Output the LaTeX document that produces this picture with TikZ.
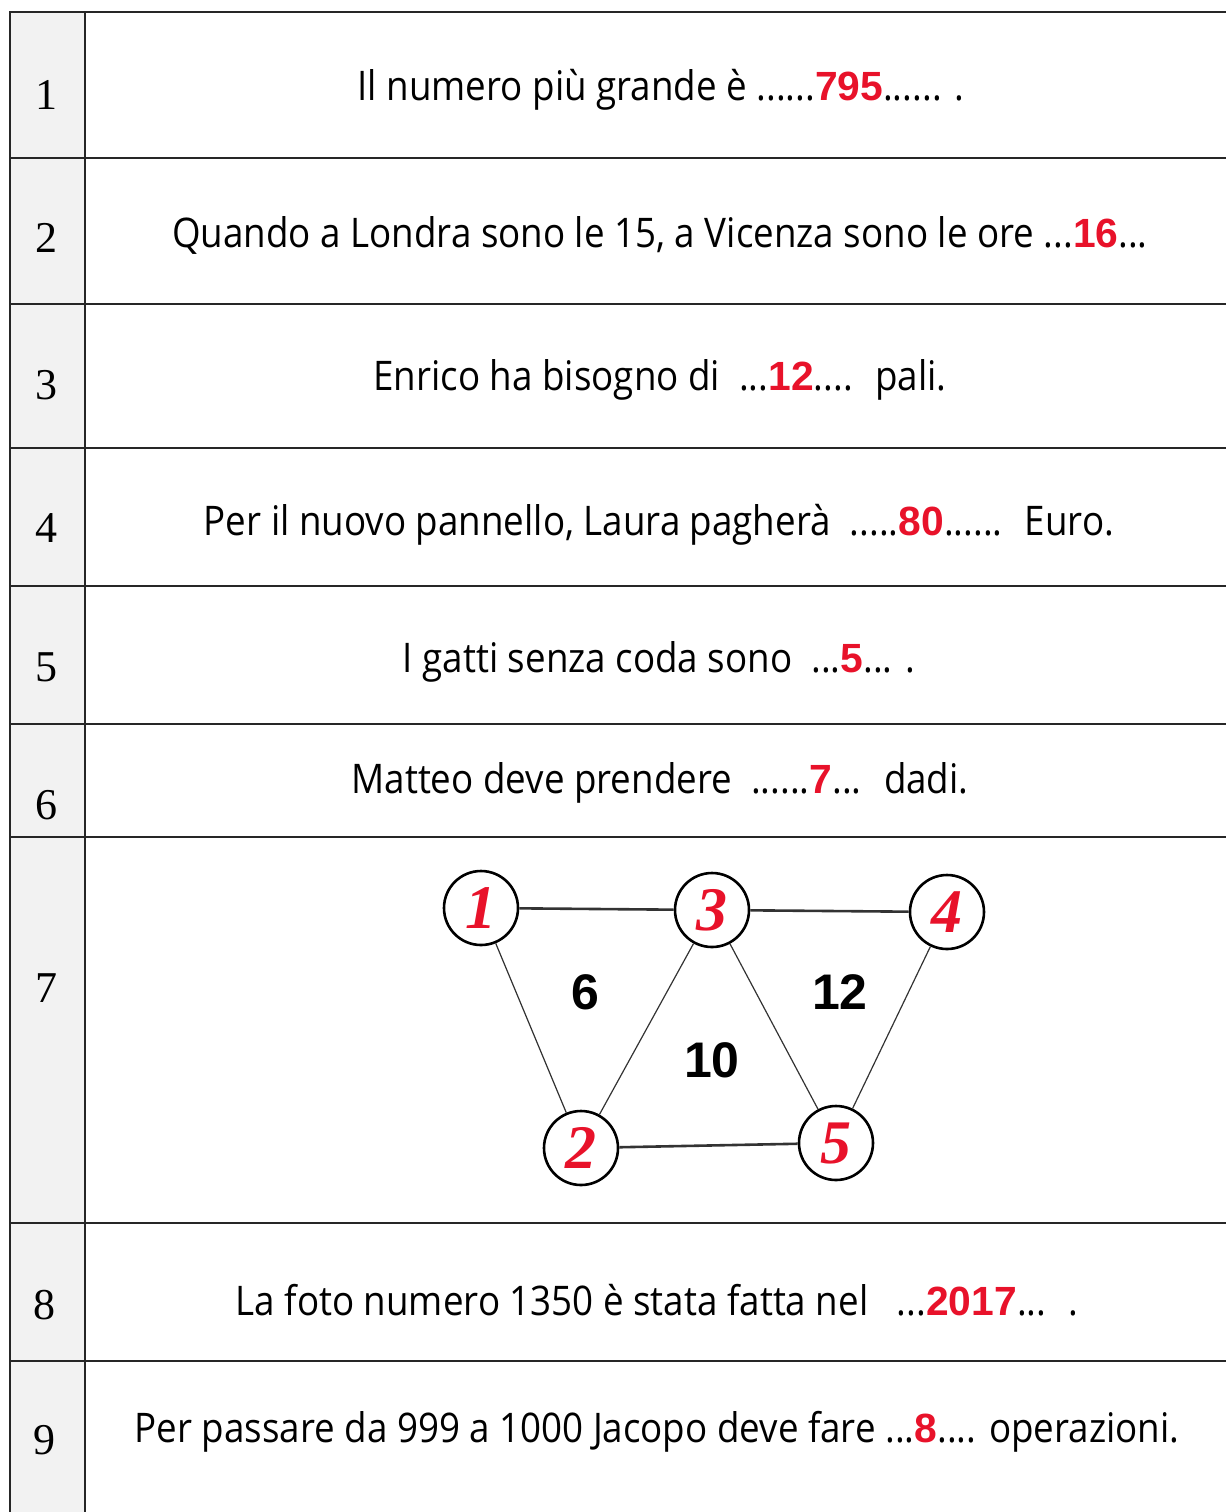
\documentclass[tikz,border=0pt]{standalone}
\usepackage{fontspec}
\setmainfont{Liberation Serif}
\newfontfamily\comicfont[FakeStretch=0.9]{Open Sans}
\newfontfamily\answerfont{Liberation Sans}
\definecolor{answerred}{RGB}{232,18,42}
\newcommand{\ans}[1]{{\answerfont\bfseries\color{answerred}#1}}
\tikzset{
  rownum/.style={font=\fontsize{22}{24}\selectfont},
  sentence/.style={font=\comicfont\fontsize{20.4}{24}\selectfont},
  vertex/.style={circle,draw,line width=1.3pt,minimum size=37pt,inner sep=0pt,
    text=answerred,font=\bfseries\itshape\fontsize{31}{31}\selectfont},
  area/.style={font=\answerfont\bfseries\fontsize{25}{27}\selectfont},
  rule/.style={line width=0.8pt,black!85},
}
\begin{document}
\begin{tikzpicture}[x=0.5pt,y=-0.5pt]
      \useasboundingbox (0,0) rectangle (1226,1512);
      \fill[gray!10] (10,12) rectangle (85,1512);
      \draw[rule] (1226,12) -- (10,12) -- (10,1512);
      \draw[rule] (85,12) -- (85,1512);
      \foreach \y in {158,304,448,586,724,837,1223,1361}
        \draw[rule] (10,\y) -- (1226,\y);
      \draw
        (46,95) node[rownum] (n1){1}
        (46,238) node[rownum] (n2){2}
        (46,385) node[rownum] (n3){3}
        (46,528) node[rownum] (n4){4}
        (46,667) node[rownum] (n5){5}
        (46,805) node[rownum] (n6){6}
        (46,988) node[rownum] (n7){7}
        (44,1305) node[rownum] (n8){8}
        (44,1440) node[rownum] (n9){9};
      \draw
        (661,90) node[sentence] (s1){Il numero più grande è ......\ans{795}...... .}
        (660,235) node[sentence] (s2){Quando a Londra sono le 15, a Vicenza sono le ore ...\ans{16}...}
        (660,380) node[sentence] (s3){Enrico ha bisogno di \ ...\ans{12}.... \ pali.}
        (659,525) node[sentence] (s4){Per il nuovo pannello, Laura pagherà \ .....\ans{80}...... \ Euro.}
        (659,662) node[sentence] (s5){I gatti senza coda sono \ ...\ans{5}... .}
        (660,783) node[sentence] (s6){Matteo deve prendere \ ......\ans{7}... \ dadi.}
        (657,1300) node[sentence] (s8){La foto numero 1350 è stata fatta nel \ \ ...\ans{2017}... \ .}
        (657,1432) node[sentence] (s9){Per passare da 999 a 1000 Jacopo deve fare ...\ans{8}.... operazioni.};
      \draw
        (481,908) node[vertex] (v1){1}
        (581,1148) node[vertex] (v2){2}
        (712,910) node[vertex] (v3){3}
        (947,912) node[vertex] (v4){4}
        (836,1143) node[vertex] (v5){5};
      \draw
        (585,992) node[area] (f6){6}
        (840,992) node[area] (f12){12}
        (712,1060) node[area] (f10){10};
      \begin{scope}[-,black!80]
        \draw[line width=1.3pt] (v1) to (v3);
        \draw[line width=1.3pt] (v3) to (v4);
        \draw[line width=1.3pt] (v2) to (v5);
        \draw[line width=0.6pt] (v1) to (v2);
        \draw[line width=0.6pt] (v2) to (v3);
        \draw[line width=0.6pt] (v3) to (v5);
        \draw[line width=0.6pt] (v4) to (v5);
      \end{scope}
    \end{tikzpicture}
\end{document}
